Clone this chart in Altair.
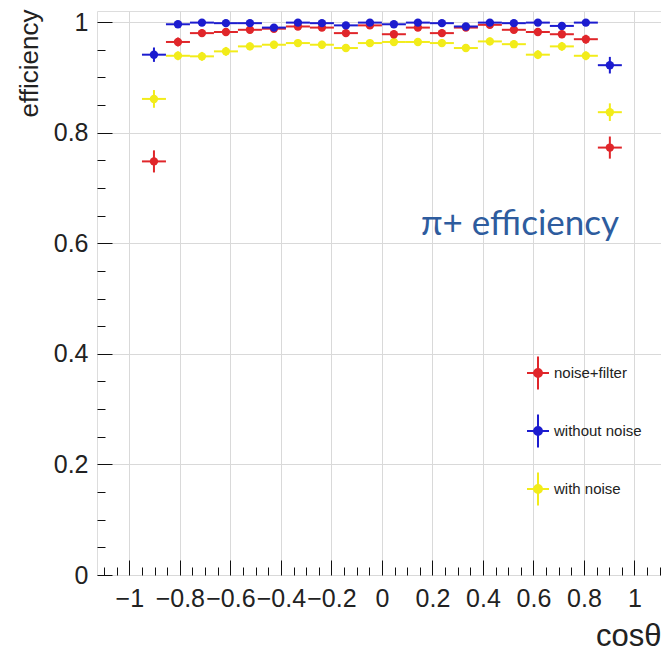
import altair as alt
import pandas as pd

# ---------------- data ----------------
bin_centers = [-0.9025, -0.8075, -0.7125, -0.6175, -0.5225, -0.4275, -0.3325,
               -0.2375, -0.1425, -0.0475, 0.0475, 0.1425, 0.2375, 0.3325,
               0.4275, 0.5225, 0.6175, 0.7125, 0.8075, 0.9025]
bin_half_width = 0.0475

series_names = ["noise+filter", "without noise", "with noise"]
series_colors = ["#e0262a", "#1c1ccf", "#f2ec1a"]

eff_noise_filter = [0.748, 0.964, 0.980, 0.982, 0.986, 0.988, 0.992, 0.990, 0.980, 0.994,
                    0.978, 0.990, 0.980, 0.990, 0.995, 0.986, 0.982, 0.978, 0.969, 0.773]
err_noise_filter = [0.020, 0.008, 0.007, 0.007, 0.006, 0.006, 0.006, 0.006, 0.007, 0.006,
                    0.007, 0.006, 0.007, 0.006, 0.006, 0.006, 0.007, 0.007, 0.008, 0.020]

eff_without_noise = [0.941, 0.996, 0.999, 0.998, 0.998, 0.990, 0.999, 0.998, 0.994, 0.999,
                     0.996, 0.999, 0.998, 0.992, 0.999, 0.998, 0.999, 0.993, 0.999, 0.922]
err_without_noise = [0.013, 0.006, 0.005, 0.005, 0.005, 0.006, 0.005, 0.005, 0.005, 0.005,
                     0.005, 0.005, 0.005, 0.006, 0.005, 0.005, 0.005, 0.006, 0.005, 0.015]

eff_with_noise = [0.861, 0.939, 0.938, 0.947, 0.956, 0.959, 0.962, 0.959, 0.953, 0.962,
                  0.964, 0.964, 0.962, 0.953, 0.965, 0.960, 0.941, 0.956, 0.939, 0.837]
err_with_noise = [0.016, 0.008, 0.008, 0.008, 0.007, 0.007, 0.007, 0.007, 0.007, 0.007,
                  0.007, 0.007, 0.007, 0.007, 0.007, 0.007, 0.008, 0.008, 0.008, 0.016]

x_label_values = [-1, -0.8, -0.6, -0.4, -0.2, 0, 0.2, 0.4, 0.6, 0.8, 1]
x_tick_values = [round(-1.1 + 0.05 * i, 2) for i in range(45)]
y_label_values = [0, 0.2, 0.4, 0.6, 0.8, 1]
y_tick_values = [round(0.05 * i, 2) for i in range(21)]

# ---------------- build table ----------------
rows = []
for name, effs, errs in [("with noise", eff_with_noise, err_with_noise),
                         ("noise+filter", eff_noise_filter, err_noise_filter),
                         ("without noise", eff_without_noise, err_without_noise)]:
    for c, v, e in zip(bin_centers, effs, errs):
        rows.append({"series": name, "c": c, "lo": c - bin_half_width, "hi": c + bin_half_width,
                     "v": v, "vlo": v - e, "vhi": v + e})
df = pd.DataFrame(rows)

W, H = 564, 564
FONT = "Liberation Sans"

xscale = alt.Scale(domain=[-1.128, 1.105], nice=False, zero=False)
yscale = alt.Scale(domain=[0, 1.02], nice=False, zero=False)
stroke_scale = alt.Scale(domain=series_names, range=series_colors)

major_test = "abs(datum.value*5 - round(datum.value*5)) < 0.01"
tick_len = {"condition": {"test": major_test, "value": 15}, "value": 8}

symbol_path = ("M-1,0H1M0,-1.5V1.5"
               "M-0.36,0A0.36,0.36 0 1,0 0.36,0A0.36,0.36 0 1,0 -0.36,0Z")

legend = alt.Legend(orient="none", legendX=429, legendY=350, title=None,
                    symbolType=symbol_path, symbolSize=484, symbolStrokeWidth=2,
                    labelFont=FONT, labelFontSize=15, labelColor="#222222",
                    rowPadding=16, labelOffset=4, symbolOpacity=1)

x_main_axis = alt.Axis(orient="bottom", values=x_label_values, grid=True, gridColor="#d9d9d9",
                       gridWidth=1, ticks=False, domain=False, labelFont=FONT, labelFontSize=25,
                       labelColor="#222222", labelPadding=11, labelExpr="format(datum.value, '.1~f')",
                       title="cosθ", titleFont=FONT, titleFontSize=31, titleFontWeight="normal",
                       titleColor="#222222", titleX=W, titleY=70, titleAlign="right",
                       titleBaseline="alphabetic", labelFlush=False, labelOverlap=False)
y_main_axis = alt.Axis(orient="left", values=y_label_values, grid=True, gridColor="#d9d9d9",
                       gridWidth=1, ticks=False, domain=False, labelFont=FONT, labelFontSize=25,
                       labelColor="#222222", labelPadding=9, labelExpr="format(datum.value, '.1~f')",
                       title="efficiency", titleFont=FONT, titleFontSize=26, titleFontWeight="normal",
                       titleColor="#222222", titleAngle=270, titleX=-68, titleY=-2,
                       titleAlign="right", titleBaseline="middle", labelFlush=False)
x_tick_axis = alt.Axis(orient="top", offset=-H, values=x_tick_values, grid=False, labels=False,
                       domain=False, ticks=True, tickSize=tick_len, tickColor="#111111",
                       tickWidth=1, title=None)
y_tick_axis = alt.Axis(orient="right", offset=-W, values=y_tick_values, grid=False, labels=False,
                       domain=False, ticks=True, tickSize=tick_len, tickColor="#111111",
                       tickWidth=1, title=None)

layers = []
for i, name in enumerate(["with noise", "noise+filter", "without noise"]):
    sub = alt.Chart(df).transform_filter(alt.datum.series == name)
    first = i == 0
    hbar = sub.mark_rule(strokeWidth=2).encode(
        x=alt.X("lo:Q", scale=xscale, axis=x_main_axis if first else None),
        x2="hi:Q",
        y=alt.Y("v:Q", scale=yscale, axis=y_main_axis if first else None),
        stroke=alt.Stroke("series:N", scale=stroke_scale, legend=legend),
    )
    vbar = sub.mark_rule(strokeWidth=2).encode(
        x=alt.X("c:Q", scale=xscale, axis=x_tick_axis if first else None),
        y=alt.Y("vlo:Q", scale=yscale, axis=y_tick_axis if first else None),
        y2="vhi:Q",
        stroke=alt.Stroke("series:N", scale=stroke_scale, legend=legend),
    )
    pts = sub.mark_point(filled=True, shape="circle", size=70, opacity=1).encode(
        x=alt.X("c:Q", scale=xscale, axis=None),
        y=alt.Y("v:Q", scale=yscale, axis=None),
        fill=alt.Fill("series:N", scale=stroke_scale, legend=legend),
    )
    layers += [hbar, vbar, pts]

label = alt.Chart(alt.Data(values=[{"t": "π+ efficiency"}])).mark_text(
    font="Lato", fontSize=35, color="#2e5c9e", align="left", baseline="alphabetic"
).encode(x=alt.value(324), y=alt.value(224), text="t:N")
layers.append(label)

chart = alt.layer(*layers).properties(
    width=W, height=H,
    autosize=alt.AutoSizeParams(type="none"),
    padding={"left": 89, "top": 3, "right": 0, "bottom": 78},
).configure_view(stroke="#111111", strokeWidth=2).configure(background="white")

chart.save("out.html", embed_options={"renderer": "svg", "actions": False})
